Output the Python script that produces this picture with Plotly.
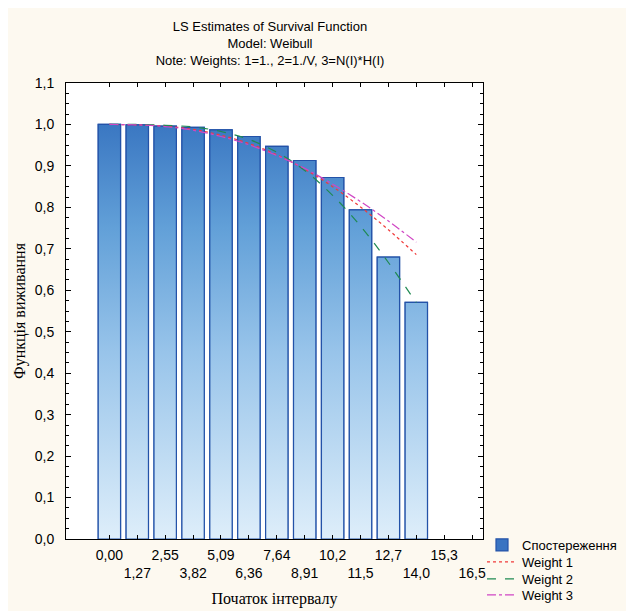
import plotly.graph_objects as go

# ---- data ----
interval_start = [0.0, 1.2733, 2.5466, 3.8199, 5.0932, 6.3665, 7.6398, 8.9131,
                  10.1864, 11.4597, 12.733, 14.0063]
observed = [1.000, 0.999, 0.996, 0.993, 0.987, 0.971, 0.947, 0.913, 0.872, 0.794, 0.680, 0.571]
weight1 = [1.000, 0.999, 0.996, 0.988, 0.974, 0.954, 0.927, 0.892, 0.850, 0.801, 0.746, 0.686]
weight2 = [1.000, 1.000, 0.998, 0.994, 0.983, 0.964, 0.933, 0.889, 0.829, 0.755, 0.667, 0.570]
weight3 = [1.000, 0.999, 0.995, 0.986, 0.971, 0.951, 0.925, 0.894, 0.856, 0.814, 0.767, 0.716]

x_tick_values = [0.0, 1.2733, 2.5466, 3.8199, 5.0932, 6.3665, 7.6398, 8.9131,
                 10.1864, 11.4597, 12.733, 14.0063, 15.2796, 16.5529]
x_tick_labels = ["0,00", "1,27", "2,55", "3,82", "5,09", "6,36", "7,64", "8,91",
                 "10,2", "11,5", "12,7", "14,0", "15,3", "16,5"]
y_tick_values = [0.0, 0.1, 0.2, 0.3, 0.4, 0.5, 0.6, 0.7, 0.8, 0.9, 1.0, 1.1]
y_tick_labels = ["0,0", "0,1", "0,2", "0,3", "0,4", "0,5", "0,6", "0,7", "0,8", "0,9", "1,0", "1,1"]

bar_width = 1.02
sans = "Liberation Sans, Arial, sans-serif"
serif = "Liberation Serif, Times New Roman, serif"
bar_edge = "#2352a8"

W, H = 626, 603          # page body has an 8px margin
ML, MR, MT, MB = 58, 151, 75, 72
PLOT_H = H - MT - MB

fig = go.Figure()

# base bar trace (legend entry)
fig.add_trace(go.Bar(
    x=interval_start, y=observed, width=bar_width, name="Спостереження",
    marker=dict(color="#3a74c2", line=dict(color=bar_edge, width=1.2)),
    hoverinfo="skip", legend="legend",
))

# gradient overlay built from the same data
gx, gy = [], []
for xv, yv in zip(interval_start, observed):
    l, r = xv - bar_width / 2, xv + bar_width / 2
    gx += [l, l, r, r, l, None]
    gy += [0, yv, yv, 0, 0, None]
fig.add_trace(go.Scatter(
    x=gx, y=gy, mode="lines", fill="toself", showlegend=False, hoverinfo="skip",
    line=dict(color=bar_edge, width=1.2),
    fillgradient=dict(type="vertical", start=0, stop=1.0,
                      colorscale=[[0, "#deeefa"], [0.45, "#98c4ea"],
                                  [0.75, "#62a0d8"], [1, "#3a77c2"]]),
))

fig.add_trace(go.Scatter(x=interval_start, y=weight1, mode="lines", name="Weight 1",
                         legend="legend2",
                         line=dict(color="#f03a3a", width=1.2, dash="dot", shape="spline")))
fig.add_trace(go.Scatter(x=interval_start, y=weight2, mode="lines", name="Weight 2",
                         legend="legend3",
                         line=dict(color="#1f8a52", width=1.2, dash="dash", shape="spline")))
fig.add_trace(go.Scatter(x=interval_start, y=weight3, mode="lines", name="Weight 3",
                         legend="legend4",
                         line=dict(color="#d046c4", width=1.2, dash="dashdot", shape="spline")))

ticktext = [t if i % 2 == 0 else "<br>" + t for i, t in enumerate(x_tick_labels)]


def leg(yc):
    return dict(x=0.9976, y=(H - MB - yc) / PLOT_H, xanchor="left", yanchor="middle",
                font=dict(family=sans, size=13, color="black"),
                bgcolor="rgba(0,0,0,0)", itemwidth=30, borderwidth=0)


fig.update_layout(
    width=W, height=H,
    margin=dict(l=ML, r=MR, t=MT, b=MB, autoexpand=False),
    paper_bgcolor="#fdf9f0", plot_bgcolor="white",
    barmode="overlay",
    title=dict(text="LS Estimates of Survival Function<br>Model: Weibull<br>"
                    "Note: Weights: 1=1., 2=1./V, 3=N(I)*H(I)",
               x=262 / W, xanchor="center", y=1 - 23 / H, yanchor="top",
               font=dict(family=sans, size=13, color="black")),
    legend=leg(537), legend2=leg(554), legend3=leg(571), legend4=leg(587),
    xaxis=dict(range=[-1.98, 17.05], tickmode="array", tickvals=x_tick_values,
               ticktext=ticktext, tickangle=0, ticks="inside", ticklen=4, tickcolor="black",
               showline=True, linecolor="black", linewidth=1, mirror="ticks",
               showgrid=False, zeroline=False, automargin=False, ticklabelstandoff=3,
               tickfont=dict(family=sans, size=14, color="black"),
               title=dict(text="Початок інтервалу", standoff=12,
                          font=dict(family=serif, size=16, color="black"))),
    yaxis=dict(range=[0, 1.1], tickmode="array", tickvals=y_tick_values,
               ticktext=y_tick_labels, ticks="inside", ticklen=5, tickcolor="black",
               showline=True, linecolor="black", linewidth=1, mirror="ticks",
               showgrid=False, zeroline=False, ticklabelstandoff=8, automargin=False,
               minor=dict(dtick=0.025, ticks="inside", ticklen=3, tickcolor="black", showgrid=False),
               tickfont=dict(family=sans, size=14, color="black"),
               title=dict(text="Функція виживання", standoff=5,
                          font=dict(family=serif, size=16, color="black"))),
)

fig.write_html("out.html")
